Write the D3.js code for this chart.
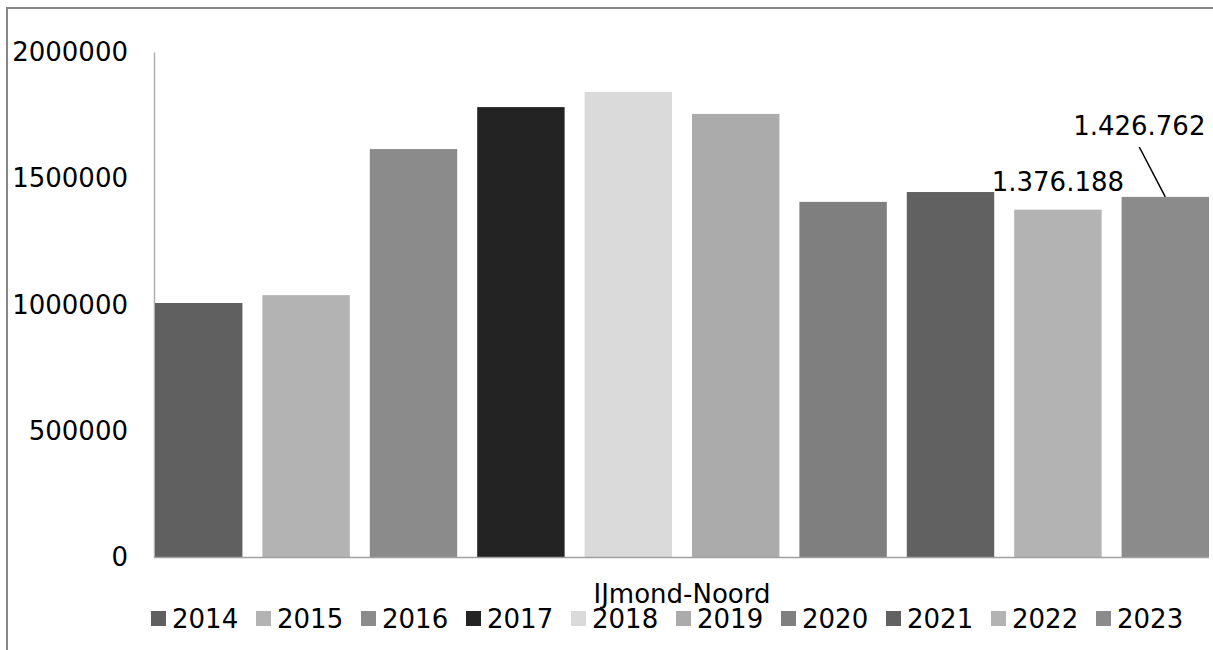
<!DOCTYPE html>
<html>
<head>
<meta charset="utf-8">
<script src="https://cdn.jsdelivr.net/npm/d3@7"></script>
<style>
  html, body { margin: 0; padding: 0; background: #fff; }
  svg { display: block; font-family: "DejaVu Sans", Verdana, sans-serif; }
</style>
</head>
<body>
<svg id="chart" width="1213" height="650"></svg>
<script>
const categories = ["IJmond-Noord"];
const years = ["2014","2015","2016","2017","2018","2019","2020","2021","2022","2023"];
const values = [1007000, 1038000, 1616000, 1782000, 1842000, 1755000, 1407000, 1446000, 1376188, 1426762];
const colors = ["#606060","#b3b3b3","#8b8b8b","#232323","#dadada","#ababab","#7f7f7f","#616161","#b3b3b3","#8b8b8b"];
const yTicks = [0, 500000, 1000000, 1500000, 2000000];
const labelledYears = ["2022", "2023"];
const labelText = {"2022": "1.376.188", "2023": "1.426.762"};

const svg = d3.select("#chart");

// outer frame (only top/left visible in the picture)
svg.append("rect").attr("x", 7).attr("y", 8).attr("width", 1240).attr("height", 680)
  .attr("fill", "none").attr("stroke", "#878787").attr("stroke-width", 2);

const x = d3.scaleBand().domain(years).range([155, 1209]).paddingInner(0.186).paddingOuter(0);
const y = d3.scaleLinear().domain([0, 2000000]).range([557.5, 52]);

// y axis
const yAxis = d3.axisLeft(y).tickValues(yTicks).tickSize(0).tickPadding(26).tickFormat(d3.format("d"));
const yg = svg.append("g").attr("transform", "translate(154,0)").call(yAxis);
yg.select(".domain").attr("stroke", "#b0b0b0").attr("stroke-width", 1.5);
yg.selectAll("text").attr("font-size", 26).attr("fill", "#000")
  .attr("font-family", "DejaVu Sans, Verdana, sans-serif");

// bars
svg.append("g").selectAll("rect").data(years).join("rect")
  .attr("x", d => x(d))
  .attr("width", x.bandwidth())
  .attr("y", (d, i) => y(values[i]))
  .attr("height", (d, i) => y(0) - y(values[i]))
  .attr("fill", (d, i) => colors[i]);

// x baseline
svg.append("line").attr("x1", 154).attr("x2", 1209).attr("y1", y(0)).attr("y2", y(0))
  .attr("stroke", "#a0a0a0").attr("stroke-width", 1.5);

// category label
svg.append("text").attr("x", (155 + 1209) / 2).attr("y", 603)
  .attr("text-anchor", "middle").attr("font-size", 26).attr("fill", "#000")
  .text(categories[0]);

// data labels
const i22 = years.indexOf("2022");
svg.append("text")
  .attr("x", x("2022") + x.bandwidth() / 2).attr("y", y(values[i22]) - 19)
  .attr("text-anchor", "middle").attr("font-size", 26).attr("fill", "#000")
  .text(labelText["2022"]);

const i23 = years.indexOf("2023");
const lx = x("2023") + x.bandwidth() / 2 - 26;
svg.append("text")
  .attr("x", lx).attr("y", 135)
  .attr("text-anchor", "middle").attr("font-size", 26).attr("fill", "#000")
  .text(labelText["2023"]);
svg.append("line")
  .attr("x1", lx).attr("y1", 147)
  .attr("x2", x("2023") + x.bandwidth() / 2).attr("y2", y(values[i23]))
  .attr("stroke", "#000").attr("stroke-width", 1.5);

// legend
const lg = d3.scaleLinear().domain([0, years.length - 1]).range([151, 151 + 105 * 9]);
const items = svg.append("g").selectAll("g").data(years).join("g")
  .attr("transform", (d, i) => `translate(${lg(i)},0)`);
items.append("rect").attr("x", 0).attr("y", 611).attr("width", 15).attr("height", 15)
  .attr("fill", (d, i) => colors[i]);
items.append("text").attr("x", 21).attr("y", 627.5).attr("font-size", 26).attr("fill", "#000")
  .text(d => d);
</script>
</body>
</html>
